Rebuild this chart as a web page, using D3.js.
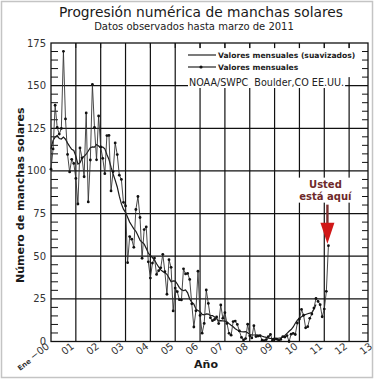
<!DOCTYPE html>
<html>
<head>
<meta charset="utf-8">
<script src="https://cdn.jsdelivr.net/npm/d3@7"></script>
<style>
  body { margin: 0; background: #fff; }
  svg { display: block; font-family: "DejaVu Sans", Verdana, sans-serif; }
</style>
</head>
<body>
<div id="wrapper"></div>
<script>
// monthly sunspot numbers, Jan 2000 .. Mar 2011
const monthly = [
  101, 112.9, 138.5, 125.5, 121.6, 124.9, 170.1, 130.5, 109.7, 99.4, 106.8, 104.4,
  95.6, 80.6, 113.5, 107.7, 96.6, 134.0, 81.8, 106.4, 150.7, 125.5, 106.5, 132.2,
  114.1, 107.4, 98.4, 120.7, 120.8, 88.3, 99.6, 116.4, 109.6, 97.5, 95.0, 81.6,
  79.5, 46.2, 61.5, 60.0, 55.2, 77.4, 85.0, 72.7, 48.8, 65.6, 67.2, 46.7,
  37.2, 46.0, 48.9, 39.3, 41.5, 43.2, 51.1, 40.9, 27.7, 48.0, 43.5, 17.9,
  31.3, 29.2, 24.5, 24.4, 42.6, 39.6, 39.9, 36.4, 22.1, 8.5, 18.0, 41.2,
  15.3, 4.9, 10.6, 30.2, 22.3, 13.9, 12.2, 12.9, 14.4, 10.5, 21.4, 13.6,
  16.9, 10.6, 4.8, 3.7, 11.7, 12.0, 10.0, 6.2, 2.4, 0.9, 1.7, 10.1,
  3.3, 2.1, 9.3, 2.9, 3.2, 3.4, 0.8, 0.5, 1.1, 2.9, 4.1, 0.8,
  1.5, 1.4, 0.7, 1.2, 2.9, 2.6, 3.5, 0.0, 4.3, 4.8, 4.1, 10.8,
  13.2, 18.8, 15.4, 8.0, 8.7, 13.6, 16.1, 19.6, 25.2, 23.5, 21.6, 14.5,
  19.0, 29.4, 56.2
]
// 13-month smoothed values, Jan 2000 .. Sep 2010
const smoothed = [
  112.9, 117.9, 119.8, 120.8, 119.0, 118.7, 119.8, 118.6, 116.3, 114.4, 112.7, 112.0,
  108.7, 104.0, 104.8, 107.5, 108.6, 109.8, 111.7, 113.6, 114.1, 114.0, 115.5, 114.6,
  113.5, 114.0, 113.0, 109.6, 106.7, 102.2, 98.2, 94.6, 90.6, 85.2, 80.7, 77.6,
  75.7, 72.8, 70.0, 68.0, 66.0, 64.6, 62.2, 59.4, 58.2, 57.1, 54.6, 51.8,
  50.4, 49.2, 47.7, 45.6, 43.7, 42.0, 41.0, 40.3, 39.4, 37.3, 35.0, 35.5,
  35.4, 33.7, 31.6, 30.4, 29.8, 30.2, 28.5, 24.9, 23.0, 21.9, 19.1, 18.1,
  17.4, 15.9, 15.6, 16.2, 16.1, 15.2, 15.2, 14.4, 13.3, 12.1, 12.2, 12.1,
  12.0, 11.5, 10.5, 9.5, 8.6, 7.5, 6.7, 6.1, 5.7, 5.6, 5.8, 5.1,
  4.1, 3.9, 3.8, 3.9, 3.7, 3.5, 3.1, 2.7, 2.4, 2.0, 1.8, 1.7,
  1.8, 1.9, 2.0, 2.2, 2.7, 3.6, 4.8, 6.0, 7.0, 8.5, 10.7, 12.5,
  13.6, 14.5, 15.2, 15.8, 16.3, 16.6, 17.0, 18.9, 21.7
]
const yTicks = [0, 25, 50, 75, 100, 125, 150, 175]
const xTicks = [0, 1, 2, 3, 4, 5, 6, 7, 8, 9, 10, 11, 12, 13]
const xTickLabels = ["\u221200", "01", "02", "03", "04", "05", "06", "07", "08", "09", "10", "11", "12", "13"]
const legendLabels = ["Valores mensuales (suavizados)", "Valores mensuales"]

const dimensions = {
  width: 374,
  height: 379,
  margin: { top: 43, left: 51, right: 6, bottom: 37.5 }
}
dimensions.boundedWidth = dimensions.width - dimensions.margin.left - dimensions.margin.right
dimensions.boundedHeight = dimensions.height - dimensions.margin.top - dimensions.margin.bottom

const svg = d3.select("#wrapper").append("svg")
    .attr("width", dimensions.width)
    .attr("height", dimensions.height)

// outer frame
svg.append("rect")
    .attr("x", 1.5).attr("y", 1.5)
    .attr("width", dimensions.width - 3).attr("height", dimensions.height - 3)
    .attr("fill", "#fff").attr("stroke", "#c4c4c4").attr("stroke-width", 1.5)

const xMax = 12.76
const xScale = d3.scaleLinear()
    .domain([0, xMax])
    .range([dimensions.margin.left, dimensions.margin.left + dimensions.boundedWidth])
const yScale = d3.scaleLinear()
    .domain([0, 175])
    .range([dimensions.margin.top + dimensions.boundedHeight, dimensions.margin.top])

const monthX = i => xScale(i / 12)

// title
svg.append("text")
    .attr("x", 201).attr("y", 17)
    .attr("text-anchor", "middle")
    .style("font-size", "13.8px").attr("fill", "#1a1a1a")
    .text("Progresión numérica de manchas solares")
svg.append("text")
    .attr("x", 194).attr("y", 30)
    .attr("text-anchor", "middle")
    .style("font-size", "10px").attr("fill", "#222")
    .text("Datos observados hasta marzo de 2011")

// gridlines
const grid = svg.append("g").attr("stroke", "#111").attr("stroke-width", 1.2)
grid.selectAll(".hgrid")
    .data(yTicks.filter(d => d > 0 && d < 175))
    .join("line")
    .attr("x1", xScale(0)).attr("x2", xScale(xMax))
    .attr("y1", d => yScale(d)).attr("y2", d => yScale(d))
grid.selectAll(".vgrid")
    .data(xTicks.filter(d => d > 0 && d < xMax))
    .join("line")
    .attr("x1", d => xScale(d)).attr("x2", d => xScale(d))
    .attr("y1", yScale(0)).attr("y2", yScale(175))

// minor ticks on left and right axes
const minor = d3.range(5, 175, 5).filter(d => d % 25 !== 0)
const ticks = svg.append("g").attr("stroke", "#111").attr("stroke-width", 1)
ticks.selectAll(".lt").data(minor).join("line")
    .attr("x1", xScale(0)).attr("x2", xScale(0) + 7)
    .attr("y1", d => yScale(d)).attr("y2", d => yScale(d))
ticks.selectAll(".rt").data(minor).join("line")
    .attr("x1", xScale(xMax) - 6).attr("x2", xScale(xMax))
    .attr("y1", d => yScale(d)).attr("y2", d => yScale(d))

// legend box (hides the grid in the upper right)
svg.append("rect")
    .attr("x", xScale(5.3)).attr("y", yScale(172))
    .attr("width", xScale(12.55) - xScale(5.3))
    .attr("height", yScale(155) - yScale(172))
    .attr("fill", "#fff")
ticks.selectAll(".tt").data(xTicks.filter(d => d > 0 && d < xMax)).join("line")
    .attr("x1", d => xScale(d)).attr("x2", d => xScale(d))
    .attr("y1", yScale(175)).attr("y2", yScale(175) + 5)
ticks.raise()

// frame of the plot
svg.append("rect")
    .attr("x", xScale(0)).attr("y", yScale(175))
    .attr("width", xScale(xMax) - xScale(0))
    .attr("height", yScale(0) - yScale(175))
    .attr("fill", "none").attr("stroke", "#111").attr("stroke-width", 1.3)

// legend entries
const legend = svg.append("g")
legend.append("line")
    .attr("x1", 188).attr("x2", 216).attr("y1", 55).attr("y2", 55)
    .attr("stroke", "#222").attr("stroke-width", 1.2)
legend.append("line")
    .attr("x1", 188).attr("x2", 216).attr("y1", 67).attr("y2", 67)
    .attr("stroke", "#222").attr("stroke-width", 1.2)
legend.append("circle").attr("cx", 201).attr("cy", 67).attr("r", 1.6).attr("fill", "#111")
legend.selectAll(".lg").data(legendLabels).join("text")
    .attr("x", 218).attr("y", (d, i) => 58 + i * 12)
    .style("font-size", "7.6px").style("font-weight", "bold").attr("fill", "#222")
    .text(d => d)
const noaa = legend.append("text")
    .attr("x", 189).attr("y", 86)
    .style("font-size", "9.6px").style("white-space", "pre").attr("fill", "#222")
    .text("NOAA/SWPC  Boulder,CO EE.UU.")
const nb = noaa.node().getBBox()
legend.insert("rect", "text:last-of-type")
    .attr("x", nb.x - 1).attr("y", nb.y)
    .attr("width", nb.width + 2).attr("height", nb.height)
    .attr("fill", "#fff")
noaa.raise()

// smoothed line
svg.append("path")
    .datum(smoothed)
    .attr("fill", "none").attr("stroke", "#1a1a1a").attr("stroke-width", 1.2)
    .attr("d", d3.line().x((d, i) => monthX(i)).y(d => yScale(d)))

// monthly line with markers
svg.append("path")
    .datum(monthly)
    .attr("fill", "none").attr("stroke", "#333").attr("stroke-width", 0.9)
    .attr("d", d3.line().x((d, i) => monthX(i)).y(d => yScale(d)))
svg.append("g").selectAll("circle")
    .data(monthly)
    .join("circle")
    .attr("cx", (d, i) => monthX(i)).attr("cy", d => yScale(d))
    .attr("r", 1.4).attr("fill", "#111")

// y tick labels
svg.append("g").selectAll("text")
    .data(yTicks).join("text")
    .attr("x", xScale(0) - 5).attr("y", d => yScale(d) + 3.5)
    .attr("text-anchor", "end")
    .style("font-size", "10px").attr("fill", "#333")
    .text(d => d)

// x tick labels (rotated)
const xl = svg.append("g").selectAll("text")
    .data(xTicks).join("text")
    .attr("text-anchor", "end")
    .attr("transform", d => `translate(${xScale(d) - 1}, ${yScale(0) + 6}) rotate(-38)`)
    .style("font-size", "10px").attr("fill", "#333")
xl.filter((d, i) => i === 0).append("tspan")
    .style("font-size", "7px").style("font-weight", "bold")
    .text("Ene ")
xl.append("tspan").text((d, i) => xTickLabels[i])

// axis titles
svg.append("text")
    .attr("transform", `translate(24, ${(yScale(0) + yScale(175)) / 2 + 3}) rotate(-90)`)
    .attr("text-anchor", "middle")
    .style("font-size", "11px").style("font-weight", "bold").attr("fill", "#1a1a1a")
    .text("Número de manchas solares")
svg.append("text")
    .attr("x", 206).attr("y", 368)
    .attr("text-anchor", "middle")
    .style("font-size", "11px").style("font-weight", "bold").attr("fill", "#1a1a1a")
    .text("Año")

// "Usted está aquí" annotation
const last = monthly.length - 1
const ann = svg.append("g")
const annLines = ["Usted", "está aquí"]
ann.selectAll("text").data(annLines).join("text")
    .attr("x", monthX(last) - 3).attr("y", (d, i) => yScale(monthly[last]) - 58 + i * 12)
    .attr("text-anchor", "middle")
    .style("font-size", "10px").style("font-weight", "bold").attr("fill", "#6e2a2a")
    .text(d => d)
const ab = ann.node().getBBox()
ann.insert("rect", "text")
    .attr("x", ab.x - 2).attr("y", ab.y - 1)
    .attr("width", ab.width + 4).attr("height", ab.height + 2)
    .attr("fill", "#fff")
const tipY = yScale(monthly[last]) - 2
const ax = monthX(last) - 1
ann.append("line")
    .attr("x1", ax).attr("x2", ax)
    .attr("y1", ab.y + ab.height + 3).attr("y2", tipY - 14)
    .attr("stroke", "#7a3030").attr("stroke-width", 2.4)
ann.append("path")
    .attr("d", `M${ax - 7},${tipY - 21} L${ax + 7},${tipY - 21} L${ax},${tipY} Z`)
    .attr("fill", "#d01818")
</script>
</body>
</html>
